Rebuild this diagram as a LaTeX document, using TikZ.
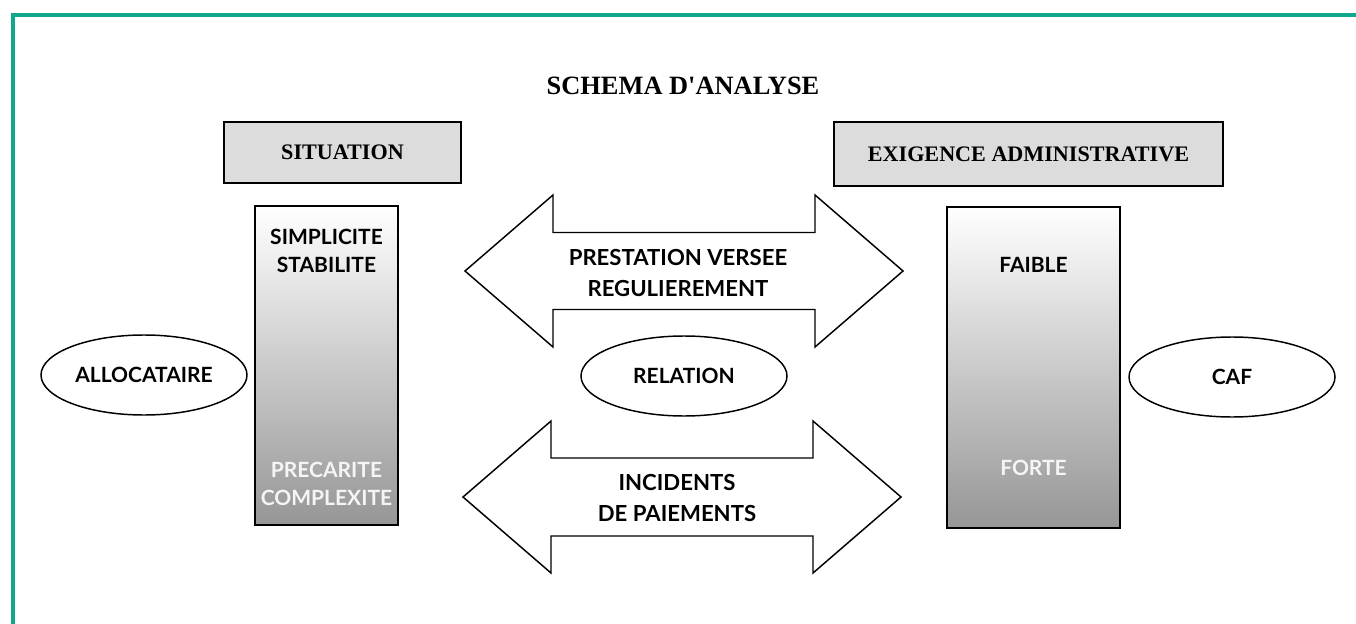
\documentclass[tikz,border=0pt]{standalone}
\usepackage{fontspec}
\setmainfont{Liberation Serif}
\newfontfamily\latofam{Lato}
\usetikzlibrary{shapes.geometric}
\definecolor{framegreen}{RGB}{16,168,140}
\definecolor{boxgray}{RGB}{220,220,220}
\definecolor{barbottom}{RGB}{150,150,150}
\definecolor{lighttext}{RGB}{245,245,245}
\newcommand\sanslabel{\latofam\bfseries\fontsize{15.75pt}{21pt}\selectfont}
\newcommand\arrowlabel{\latofam\bfseries\fontsize{16.6pt}{23.25pt}\selectfont}
\newcommand\serifhead{\bfseries\fontsize{16.6pt}{19pt}\selectfont}
\tikzset{
  headbox/.style={draw, line width=1.5pt, fill=boxgray, inner sep=0pt, font=\serifhead},
  gradbar/.style={draw, line width=1.5pt, top color=white, bottom color=barbottom, inner sep=0pt},
  oval/.style={ellipse, draw, line width=1.1pt, fill=white, inner sep=0pt, minimum width=154.5pt, minimum height=60pt, font=\sanslabel},
  lbl/.style={font=\sanslabel, align=center, inner sep=0pt},
  arrlbl/.style={font=\arrowlabel, align=center, inner sep=0pt},
  dblarrow/.style={draw, line width=1.1pt, fill=white, line join=miter},
  framestyle/.style={draw=framegreen, line width=2.3pt}
}
\begin{document}
\begin{tikzpicture}[x=0.75pt,y=-0.75pt]
\useasboundingbox (0,0) rectangle (1356,624);
% frame
\coordinate (fbl) at (13,624);
\coordinate (ftl) at (13,15);
\coordinate (ftr) at (1356,15);
\draw[framestyle] (fbl) -- (ftl) -- (ftr);
% title
\node[font=\bfseries\fontsize{19.8pt}{23pt}\selectfont] (title) at (683,86) {SCHEMA D\textquotesingle ANALYSE};
% header boxes
\node[headbox, minimum width=177.75pt, minimum height=45.75pt] (situation) at (342.5,152.5) {SITUATION};
\node[headbox, minimum width=291.75pt, minimum height=48pt] (exigence) at (1028.5,154) {EXIGENCE ADMINISTRATIVE};
% gradient bars
\node[gradbar, minimum width=107.25pt, minimum height=239.25pt] (lbar) at (326.5,365.5) {};
\node[gradbar, minimum width=129.75pt, minimum height=240.75pt] (rbar) at (1033.5,367.5) {};
\node[lbl] (simpl) at (326.5,251) {SIMPLICITE\\STABILITE};
\node[lbl, text=lighttext] (prec) at (326.5,484) {PRECARITE\\COMPLEXITE};
\node[lbl] (faible) at (1033.5,265) {FAIBLE};
\node[lbl, text=lighttext] (forte) at (1033.5,468) {FORTE};
% ellipses
\node[oval] (alloc) at (144,375) {ALLOCATAIRE};
\node[oval] (relation) at (684,376) {RELATION};
\node[oval] (caf) at (1232,377) {CAF};
% upper double arrow
\coordinate (ua1) at (465,271);
\coordinate (ua2) at (553,195);
\coordinate (ua3) at (553,232.5);
\coordinate (ua4) at (815,232.5);
\coordinate (ua5) at (815,195);
\coordinate (ua6) at (903,271);
\coordinate (ua7) at (815,347);
\coordinate (ua8) at (815,309.5);
\coordinate (ua9) at (553,309.5);
\coordinate (ua10) at (553,347);
\draw[dblarrow] (ua1) -- (ua2) -- (ua3) -- (ua4) -- (ua5) -- (ua6) -- (ua7) -- (ua8) -- (ua9) -- (ua10) -- cycle;
\node[arrlbl] (prest) at (678,272.5) {PRESTATION VERSEE\\REGULIEREMENT};
% lower double arrow
\coordinate (la1) at (463,497);
\coordinate (la2) at (551,421);
\coordinate (la3) at (551,458);
\coordinate (la4) at (813,458);
\coordinate (la5) at (813,421);
\coordinate (la6) at (901,497);
\coordinate (la7) at (813,573);
\coordinate (la8) at (813,536);
\coordinate (la9) at (551,536);
\coordinate (la10) at (551,573);
\draw[dblarrow] (la1) -- (la2) -- (la3) -- (la4) -- (la5) -- (la6) -- (la7) -- (la8) -- (la9) -- (la10) -- cycle;
\node[arrlbl] (incid) at (677,497.5) {INCIDENTS\\DE PAIEMENTS};
\end{tikzpicture}
\end{document}
